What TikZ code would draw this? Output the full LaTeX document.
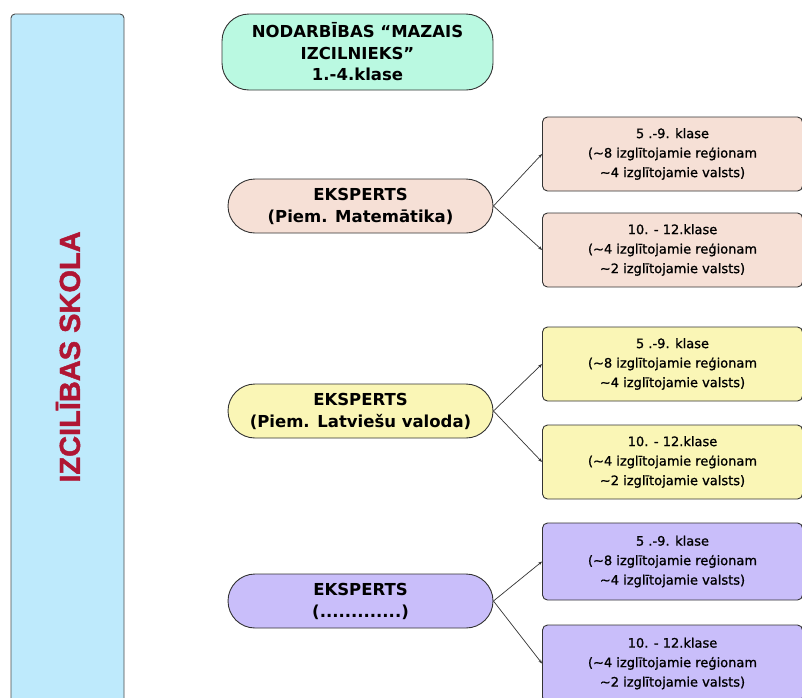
\documentclass[tikz,border=0pt]{standalone}
\usepackage{fontspec}
\setmainfont{DejaVu Sans}
\newfontfamily\skolafont[FakeBold=1.5]{Liberation Sans}
\newfontfamily\klasefont[FakeBold=1]{DejaVu Sans}
\usepackage{tikz}
\usetikzlibrary{arrows.meta}

\definecolor{skolablue}{RGB}{190,234,252}
\definecolor{skolared}{RGB}{176,22,52}
\definecolor{mint}{RGB}{186,249,225}
\definecolor{peach}{RGB}{246,224,214}
\definecolor{lemon}{RGB}{250,246,182}
\definecolor{lilac}{RGB}{201,190,250}

\tikzset{
  pill/.style={draw=black!80, line width=0.9pt, rounded corners=27pt, minimum width=265pt, minimum height=54pt, align=center, font=\fontsize{16.5}{22}\selectfont\bfseries},
  klase/.style={draw=black!80, line width=0.9pt, rounded corners=5pt, minimum width=260pt, minimum height=74pt, align=center, font=\klasefont\fontsize{13}{19.5}\selectfont},
  link/.style={-{Stealth[length=4pt,width=3pt]}, black!80, line width=0.7pt}
}

\begin{document}
\begin{tikzpicture}[x=1pt,y=-1pt]
\clip (0,0) rectangle (802,697);
\fill[white] (0,0) rectangle (802,697);

\draw[black!70, line width=0.9pt, fill=skolablue, rounded corners=4pt] (11,14) rectangle (124,720);
\node[rotate=90, text=skolared, font=\skolafont\fontsize{29}{30}\selectfont\bfseries] (skola) at (68,357) {IZCILĪBAS SKOLA};

\node[pill, fill=mint, minimum width=271pt, minimum height=76pt, font=\fontsize{16.5}{21.5}\selectfont\bfseries] (mazais) at (357.5,52) {NODARBĪBAS “MAZAIS\\IZCILNIEKS”\\1.-4.klase};

% matematika
\node[pill, fill=peach] (mat) at (360.5,206) {EKSPERTS\\(Piem. Matemātika)};
\node[klase, fill=peach] (mat1) at (672.5,154) {5 .-9. klase\\(\textasciitilde8 izglītojamie reģionam\\\textasciitilde4 izglītojamie valsts)};
\node[klase, fill=peach] (mat2) at (672.5,250) {10. - 12.klase\\(\textasciitilde4 izglītojamie reģionam\\\textasciitilde2 izglītojamie valsts)};
\draw[link] (mat.east) -- (mat1.west);
\draw[link] (mat.east) -- (mat2.west);

% latviesu valoda
\node[pill, fill=lemon] (lv) at (360.5,411) {EKSPERTS\\(Piem. Latviešu valoda)};
\node[klase, fill=lemon] (lv1) at (672.5,364) {5 .-9. klase\\(\textasciitilde8 izglītojamie reģionam\\\textasciitilde4 izglītojamie valsts)};
\node[klase, fill=lemon] (lv2) at (672.5,462) {10. - 12.klase\\(\textasciitilde4 izglītojamie reģionam\\\textasciitilde2 izglītojamie valsts)};
\draw[link] (lv.east) -- (lv1.west);
\draw[link] (lv.east) -- (lv2.west);

% cits prieksmets
\node[pill, fill=lilac] (cits) at (360.5,601) {EKSPERTS\\(.............)};
\node[klase, fill=lilac, minimum height=77pt] (cits1) at (672.5,561.5) {5 .-9. klase\\(\textasciitilde8 izglītojamie reģionam\\\textasciitilde4 izglītojamie valsts)};
\node[klase, fill=lilac, minimum height=77pt] (cits2) at (672.5,663.5) {10. - 12.klase\\(\textasciitilde4 izglītojamie reģionam\\\textasciitilde2 izglītojamie valsts)};
\draw[link] (cits.east) -- (cits1.west);
\draw[link] (cits.east) -- (cits2.west);
\end{tikzpicture}
\end{document}
